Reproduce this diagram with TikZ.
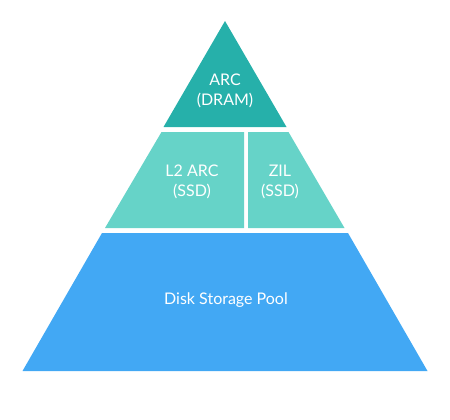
\documentclass[tikz,border=0pt]{standalone}
\usepackage{fontspec}
\setmainfont{Lato}
\definecolor{topc}{RGB}{38,176,170}
\definecolor{midc}{RGB}{102,211,200}
\definecolor{botc}{RGB}{66,168,244}
\begin{document}
\begin{tikzpicture}[x=1pt,y=-1pt]
\tikzset{lbl/.style={text=white,font=\fontsize{16}{20}\selectfont,align=center,inner sep=0pt}}
\useasboundingbox (0,0) rectangle (450,420);
% pieces
\fill[topc] (225,21) -- (286.5,127) -- (163.5,127) -- cycle;
\fill[midc] (161.5,132) -- (244,132) -- (244,228) -- (105,228) -- cycle;
\fill[midc] (248,132) -- (288.5,132) -- (344.5,228) -- (248,228) -- cycle;
\fill[botc] (102,233) -- (348,233) -- (427.5,371) -- (22.5,371) -- cycle;
% labels
\node[lbl] (arc) at (225,90.5) {ARC\\(DRAM)};
\node[lbl] (l2) at (192,182) {L2 ARC\\(SSD)};
\node[lbl] (zil) at (280,182) {ZIL\\(SSD)};
\node[lbl] (disk) at (226,300) {Disk Storage Pool};
\end{tikzpicture}
\end{document}
